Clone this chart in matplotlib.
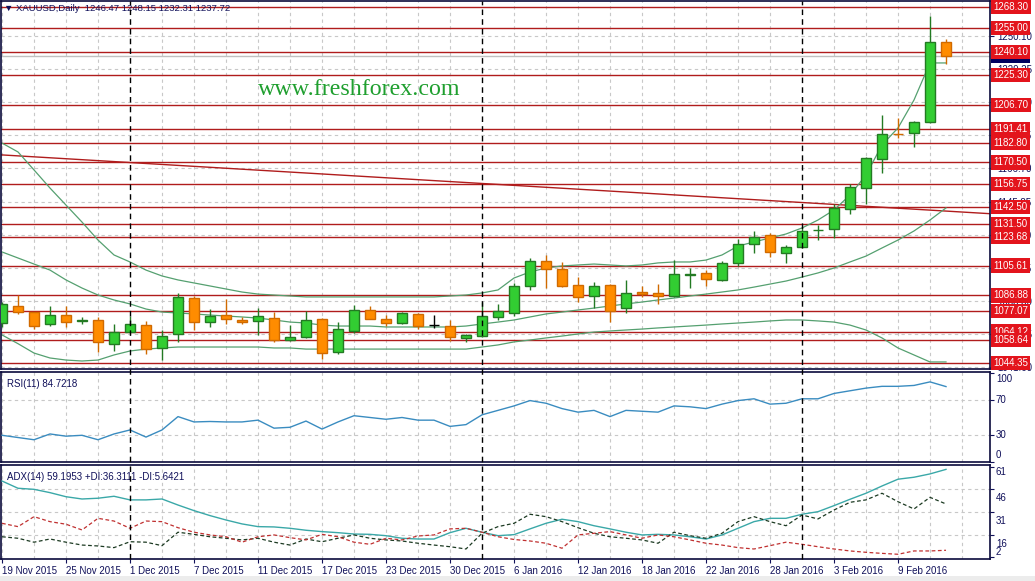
import matplotlib
matplotlib.use('Agg')
import matplotlib.pyplot as plt
from matplotlib.lines import Line2D
from matplotlib.patches import Rectangle
from matplotlib.transforms import blended_transform_factory

# ---------------- data ----------------
date_labels = ['19 Nov 2015', '25 Nov 2015', '1 Dec 2015', '7 Dec 2015', '11 Dec 2015',
               '17 Dec 2015', '23 Dec 2015', '30 Dec 2015', '6 Jan 2016', '12 Jan 2016',
               '18 Jan 2016', '22 Jan 2016', '28 Jan 2016', '3 Feb 2016', '9 Feb 2016']
date_label_bars = [0, 4, 8, 12, 16, 20, 24, 28, 32, 36, 40, 44, 48, 52, 56]
month_start_bars = [8, 30, 50]

opens = [1069.5, 1080.2, 1076.2, 1068.7, 1074.5, 1070.7, 1071.4, 1056.1, 1064.0, 1068.1,
         1053.6, 1062.6, 1085.0, 1069.9, 1074.3, 1071.6, 1070.9, 1072.5, 1059.0, 1060.5,
         1071.8, 1051.4, 1064.7, 1077.5, 1071.8, 1069.3, 1074.9, 1068.2, 1067.8, 1060.3,
         1061.5, 1073.1, 1076.0, 1092.8, 1108.5, 1103.5, 1093.2, 1086.5, 1093.4, 1078.7,
         1088.8, 1088.4, 1086.5, 1100.0, 1100.8, 1096.5, 1107.1, 1119.0, 1124.7, 1113.4,
         1117.1, 1127.7, 1128.4, 1141.0, 1154.2, 1172.5, 1188.4, 1188.8, 1196.1, 1246.47]
highs = [1083.0, 1087.1, 1076.5, 1080.2, 1080.2, 1073.1, 1073.5, 1068.9, 1073.9, 1070.6,
         1065.1, 1088.2, 1086.5, 1078.1, 1084.6, 1073.5, 1078.7, 1076.6, 1068.2, 1077.2,
         1072.5, 1070.3, 1080.8, 1080.2, 1074.5, 1076.3, 1075.6, 1074.5, 1071.4, 1062.6,
         1082.9, 1081.3, 1094.5, 1110.2, 1112.3, 1107.7, 1098.6, 1095.1, 1093.8, 1096.5,
         1092.8, 1093.8, 1109.1, 1103.9, 1102.8, 1108.5, 1122.3, 1127.4, 1125.9, 1118.6,
         1130.1, 1131.2, 1144.4, 1156.9, 1174.1, 1200.4, 1198.7, 1196.6, 1262.6, 1248.15]
lows = [1067.0, 1074.9, 1065.7, 1067.8, 1066.8, 1068.9, 1051.4, 1052.1, 1063.0, 1050.0,
        1046.2, 1057.5, 1065.1, 1066.8, 1068.7, 1068.7, 1062.0, 1057.7, 1058.2, 1059.9,
        1046.7, 1050.0, 1063.0, 1071.8, 1067.6, 1069.0, 1065.5, 1066.5, 1058.2, 1057.4,
        1060.9, 1071.4, 1074.1, 1090.3, 1091.7, 1092.3, 1082.5, 1078.7, 1070.3, 1075.6,
        1086.0, 1081.6, 1086.0, 1091.3, 1093.0, 1096.0, 1105.5, 1113.8, 1110.8, 1107.4,
        1116.6, 1121.7, 1122.8, 1138.1, 1144.4, 1163.7, 1185.7, 1180.4, 1195.1, 1232.31]
closes = [1081.5, 1076.2, 1067.8, 1074.3, 1070.3, 1071.1, 1057.4, 1063.6, 1068.9, 1052.9,
          1061.1, 1085.7, 1070.3, 1073.9, 1071.8, 1070.3, 1073.9, 1058.8, 1060.5, 1071.2,
          1050.4, 1065.5, 1077.5, 1071.8, 1069.3, 1076.0, 1067.8, 1068.2, 1060.5, 1061.8,
          1073.9, 1077.0, 1092.8, 1108.5, 1103.3, 1093.0, 1085.7, 1092.8, 1077.2, 1088.2,
          1087.9, 1086.7, 1100.1, 1100.3, 1097.2, 1107.1, 1119.0, 1123.9, 1114.0, 1117.1,
          1127.2, 1128.0, 1141.7, 1154.9, 1173.1, 1188.2, 1188.1, 1196.1, 1246.1, 1237.72]

bb_upper = [1182.7, 1177.1, 1165.8, 1154.4, 1143.7, 1133.0, 1121.7, 1112.3, 1107.9, 1102.8,
            1099.1, 1096.6, 1094.7, 1092.8, 1090.9, 1089.0, 1087.7, 1087.1, 1086.5, 1085.9,
            1085.9, 1085.9, 1085.9, 1085.9, 1085.9, 1085.9, 1085.9, 1085.9, 1086.5, 1087.1,
            1088.4, 1090.3, 1097.8, 1101.6, 1104.1, 1105.4, 1106.0, 1106.6, 1106.0, 1105.4,
            1106.0, 1107.3, 1107.9, 1107.9, 1109.1, 1112.3, 1117.9, 1120.5, 1123.0, 1125.5,
            1129.3, 1134.3, 1140.6, 1150.0, 1162.6, 1181.5, 1192.2, 1209.8, 1233.1, 1233.1]
bb_middle = [1114.2, 1110.4, 1106.6, 1102.8, 1096.6, 1091.5, 1087.1, 1084.0, 1081.5, 1078.3,
             1076.4, 1075.8, 1075.2, 1074.5, 1073.9, 1073.3, 1072.6, 1071.4, 1070.1, 1069.5,
             1068.2, 1067.6, 1067.6, 1067.6, 1067.0, 1067.0, 1067.0, 1067.0, 1067.0, 1067.6,
             1068.9, 1070.1, 1071.4, 1073.3, 1075.2, 1076.4, 1077.7, 1078.9, 1080.2, 1081.5,
             1082.7, 1084.0, 1085.2, 1086.5, 1087.7, 1089.0, 1090.3, 1092.1, 1094.0, 1095.9,
             1098.4, 1101.0, 1104.1, 1107.9, 1111.6, 1116.7, 1121.7, 1127.4, 1134.3, 1141.9]
bb_lower = [1062.0, 1056.5, 1050.6, 1047.5, 1046.2, 1045.6, 1046.2, 1049.4, 1051.9, 1053.1,
            1053.8, 1054.4, 1054.4, 1054.4, 1054.4, 1054.4, 1054.4, 1053.8, 1053.8, 1053.1,
            1053.1, 1053.1, 1053.1, 1053.1, 1053.1, 1053.1, 1053.1, 1053.1, 1053.1, 1053.1,
            1054.4, 1055.7, 1057.6, 1058.8, 1060.1, 1061.3, 1062.6, 1063.8, 1064.5, 1065.1,
            1065.7, 1066.4, 1067.0, 1067.6, 1068.2, 1068.9, 1069.5, 1070.1, 1070.8, 1071.4,
            1071.4, 1070.8, 1070.1, 1068.2, 1065.1, 1060.1, 1053.8, 1049.4, 1045.0, 1045.0]

trend_bars = [-0.1, 61.7]
trend_prices = [1175.3, 1138.3]

level_prices = [1268.30, 1255.00, 1240.10, 1225.30, 1206.70, 1191.41, 1182.80, 1170.50,
                1156.75, 1142.50, 1131.50, 1123.68, 1105.61, 1086.88, 1077.07, 1064.12,
                1058.64, 1044.35]
price_ticks = [1250.10, 1229.25, 1208.40, 1187.55, 1166.70, 1145.85, 1125.00, 1104.15,
               1083.30, 1062.45, 1041.60]
last_price = 1237.72

rsi = [30, 27.5, 25, 31.5, 29, 30, 25, 31.5, 36, 28,
       36, 51, 45, 45.5, 45, 45, 47, 38, 39, 46,
       37, 45, 52, 50, 48, 50, 47, 47, 40, 42,
       53, 58, 63, 69, 66, 60, 56, 58, 51, 58,
       57, 56, 63, 62, 60, 65, 69, 71, 65, 66,
       71, 71, 77, 80, 83, 85, 85, 86, 90, 84.72]
adx = [51.5, 46.7, 46, 43.8, 41.1, 39.6, 40.1, 41.4, 39, 39,
       39.6, 35.6, 31.9, 28.6, 25.7, 23.1, 21.3, 21.1, 20.2, 18.9,
       18, 17.3, 16.4, 16.2, 15.3, 13.6, 13.1, 13.1, 17.3, 20.2,
       17.6, 15.3, 16, 19.8, 23.5, 26.2, 24.6, 21.9, 19.8, 17.6,
       15.8, 16.2, 15.8, 14.6, 13.1, 15.8, 20.2, 24.6, 26.8, 26.8,
       29.5, 31.2, 35.2, 39.4, 43.4, 48.2, 52.7, 54, 56.2, 59.2]
plus_di = [14.6, 13.6, 11, 13.1, 11, 9.1, 8.5, 7.4, 11.3, 11,
           8.7, 17.6, 16.2, 14.6, 13.6, 12.5, 13.6, 11, 9.1, 13.1,
           11.3, 13.6, 15.8, 13.6, 12.5, 11.8, 10.3, 9.1, 8, 6.5,
           16.9, 21.3, 23.5, 29.5, 27.9, 24.6, 20.6, 16.9, 14.6, 13.6,
           12.5, 10.3, 17.6, 15.3, 13.6, 16.9, 24.6, 27.9, 24.6, 21.9,
           29, 26.4, 32.3, 37.4, 39, 43.4, 37.8, 33, 40.7, 36.31]
minus_di = [23.5, 21.3, 27.9, 24.6, 22.9, 19.1, 26.8, 25, 20.2, 25,
            24.6, 20.6, 17.6, 15.8, 14.6, 11, 14.6, 15.8, 14, 12.5,
            16.2, 14.6, 11, 9.6, 13.6, 12.5, 15.1, 15.8, 19.8, 20.2,
            17.6, 14.6, 12.8, 11.8, 10.3, 7, 15.8, 16.9, 18, 15.8,
            13.6, 15.8, 14.6, 12.5, 10.3, 9.1, 7.4, 6.5, 8.7, 11,
            9.6, 8, 6.5, 5.2, 4.3, 3.6, 3, 5.2, 5.2, 5.64]

# ---------------- style ----------------
W, H = 1035, 581
NAVY = '#10105a'
FRAME = '#0a0a3c'
GRID = '#c8c8c8'
LEVEL = '#b01c1c'
LABEL_RED = '#e3141c'
BB = '#55a070'
UP_FILL, UP_EDGE = '#32cd32', '#237a23'
DN_FILL, DN_EDGE = '#ff8c00', '#d06a00'
FONT = 'Liberation Sans'

fig = plt.figure(figsize=(W / 100, H / 100), dpi=100, facecolor='white')
fig.patches.append(Rectangle((0, 0), 1, 5 / H, transform=fig.transFigure,
                             facecolor='#ececec', edgecolor='none', zorder=-5))


def px_axes(top, bottom, left=1, right=990):
    return fig.add_axes([left / W, 1 - bottom / H, (right - left) / W, (bottom - top) / H])


ax = px_axes(1, 369)
ax_rsi = px_axes(372, 462)
ax_adx = px_axes(465, 559)

n = len(closes)
xs = list(range(n))
XLIM = (-0.0625, 61.75)

for a in (ax, ax_rsi, ax_adx):
    a.set_xlim(*XLIM)
    a.set_facecolor('white')
    for s in a.spines.values():
        s.set_color(FRAME)
        s.set_linewidth(1.2)
    for b in range(0, 62, 2):
        if b not in month_start_bars:
            a.axvline(b, color=GRID, lw=0.8, ls=(0, (3, 3)), zorder=0)
    a.tick_params(axis='x', which='both', bottom=False, labelbottom=False)
    a.yaxis.tick_right()

# ---------------- main panel ----------------
ax.set_ylim(1040.57, 1272.07)
for p in price_ticks:
    ax.axhline(p, color=GRID, lw=0.8, ls=(0, (3, 3)), zorder=0)
ax.set_yticks(price_ticks)
ax.set_yticklabels([f'{p:.2f}' for p in price_ticks])
ax.tick_params(axis='y', direction='out', length=3, pad=2, labelsize=7,
               colors=NAVY, labelfontfamily=FONT)

for p in level_prices:
    ax.axhline(p, color=LEVEL, lw=1.0, zorder=1)

ax.axhline(last_price, color='#c0c0c0', lw=1.0, zorder=1)

ax.plot(trend_bars, trend_prices, color=LEVEL, lw=1.0, zorder=2)
ax.plot(xs, bb_upper, color=BB, lw=0.9, zorder=2)
ax.plot(xs, bb_middle, color=BB, lw=0.9, zorder=2)
ax.plot(xs, bb_lower, color=BB, lw=0.9, zorder=2)

bw = 0.65
for i in xs:
    o, h, l, c = opens[i], highs[i], lows[i], closes[i]
    if c > o:
        fc, ec = UP_FILL, UP_EDGE
    elif c < o:
        fc, ec = DN_FILL, DN_EDGE
    else:
        fc, ec = 'black', 'black'
    ax.vlines(i, l, h, color=ec, lw=1.0, zorder=3)
    body = max(abs(c - o), 0.35)
    ax.add_patch(Rectangle((i - bw / 2, min(o, c)), bw, body, facecolor=fc,
                           edgecolor=ec, lw=1.0, zorder=4))

ytr = blended_transform_factory(ax.transAxes, ax.transData)
ax.text(1.0035, last_price, f'{last_price:.2f}', transform=ytr, fontsize=7.0, family=FONT,
        color='white', va='center', ha='left', zorder=8, clip_on=False,
        bbox=dict(boxstyle='square,pad=0.22', fc='#000060', ec='none'))
for p in level_prices:
    ax.text(1.0035, p, f'{p:.2f}', transform=ytr, fontsize=7.0, family=FONT,
            color='white', va='center', ha='left', zorder=9, clip_on=False,
            bbox=dict(boxstyle='square,pad=0.22', fc=LABEL_RED, ec='none'))

ax.text(0.003, 0.992, '\u25bc XAUUSD,Daily  1246.47 1248.15 1232.31 1237.72',
        transform=ax.transAxes, fontsize=6.8, family=[FONT, 'DejaVu Sans'], color=NAVY,
        va='top', ha='left', zorder=10)
fig.text(258 / W, 1 - 95 / H, 'www.freshforex.com', fontsize=17.3, family='Liberation Serif',
         color='#1f9f2f', va='baseline', ha='left')

# ---------------- RSI panel ----------------
ax_rsi.set_ylim(1.1, 101.1)
for v in (70, 30):
    ax_rsi.axhline(v, color=GRID, lw=0.8, ls=(0, (3, 3)), zorder=0)
ax_rsi.plot(xs, rsi, color='#3a8cc0', lw=1.0, zorder=3)
ax_rsi.set_yticks([100, 70, 30, 0])
ax_rsi.set_yticklabels(['', '', '', ''])
ax_rsi.tick_params(axis='y', direction='out', length=3, colors=NAVY)
rtr = blended_transform_factory(ax_rsi.transAxes, ax_rsi.transData)
for v, lab in ((93.5, '100'), (70, '70'), (30, '30'), (7.5, '0')):
    ax_rsi.text(1.006, v, lab, transform=rtr, fontsize=7, family=FONT, color=NAVY,
                va='center', ha='left', clip_on=False)
ax_rsi.text(0.006, 0.92, 'RSI(11) 84.7218', transform=ax_rsi.transAxes, fontsize=7,
            family=FONT, color=NAVY, va='top', ha='left')

# ---------------- ADX panel ----------------
ax_adx.set_ylim(-0.13, 62.1)
for v in (46, 31, 16):
    ax_adx.axhline(v, color=GRID, lw=0.8, ls=(0, (3, 3)), zorder=0)
ax_adx.plot(xs, adx, color='#3aa8a8', lw=1.0, zorder=3)
ax_adx.plot(xs, plus_di, color='#1c3a22', lw=0.9, ls=(0, (3, 2)), zorder=3)
ax_adx.plot(xs, minus_di, color='#c03030', lw=0.9, ls=(0, (3, 2)), zorder=3)
ax_adx.set_yticks([61, 46, 31, 16, 1])
ax_adx.set_yticklabels(['', '', '', '', ''])
ax_adx.tick_params(axis='y', direction='out', length=3, colors=NAVY)
atr = blended_transform_factory(ax_adx.transAxes, ax_adx.transData)
for v, lab in ((57.3, '61'), (40.5, '46'), (25.3, '31'), (10.0, '16'), (4.8, '2')):
    ax_adx.text(1.006, v, lab, transform=atr, fontsize=7, family=FONT, color=NAVY,
                va='center', ha='left', clip_on=False)
ax_adx.text(0.006, 0.93, 'ADX(14) 59.1953 +DI:36.3111 -DI:5.6421', transform=ax_adx.transAxes,
            fontsize=7, family=FONT, color=NAVY, va='top', ha='left')

ax_adx.set_xticks(date_label_bars)
ax_adx.set_xticklabels(date_labels, ha='left')
ax_adx.tick_params(axis='x', bottom=True, labelbottom=True, direction='out', length=3,
                   pad=2, labelsize=7, colors=NAVY, labelfontfamily=FONT)

# month separators across all panels
sep_tr = blended_transform_factory(ax.transData, fig.transFigure)
for b in month_start_bars:
    fig.add_artist(Line2D([b, b], [1 - 559 / H, 1 - 1 / H], transform=sep_tr,
                          color='black', lw=1.0, ls=(0, (4, 3)), zorder=5))

fig.savefig('out.png', dpi=100, facecolor='white')
